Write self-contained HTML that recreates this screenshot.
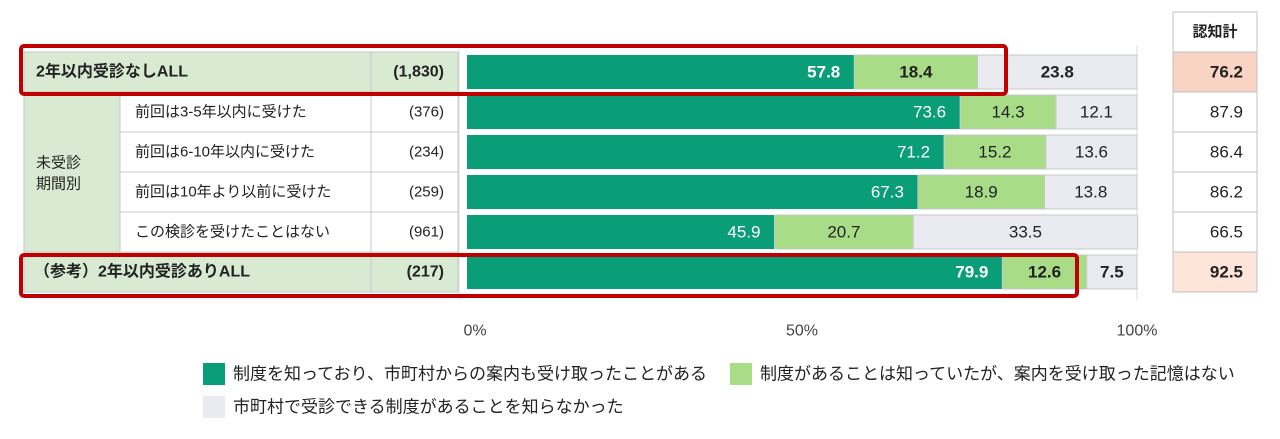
<!DOCTYPE html>
<html><head><meta charset="utf-8">
<style>
body{margin:0;width:1280px;height:439px;background:#fff;font-family:"Liberation Sans","Noto Sans CJK JP",sans-serif;overflow:hidden;position:relative}
.a{position:absolute;box-sizing:border-box}
</style></head><body>
<svg id="chart" class="a" style="left:0;top:0" width="1280" height="439"></svg>
<script>
const categories=["2年以内受診なしALL","前回は3-5年以内に受けた","前回は6-10年以内に受けた","前回は10年より以前に受けた","この検診を受けたことはない","（参考）2年以内受診ありALL"];
const counts=["(1,830)","(376)","(234)","(259)","(961)","(217)"];
const knownNotified=[57.8,73.6,71.2,67.3,45.9,79.9];
const knownNotNotified=[18.4,14.3,15.2,18.9,20.7,12.6];
const unknown=[23.8,12.1,13.6,13.8,33.5,7.5];
const totals=["76.2","87.9","86.4","86.2","66.5","92.5"];
const ticks=[0,50,100];
const boldRows=[true,false,false,false,false,true];
const NS="http://www.w3.org/2000/svg";
const svg=document.getElementById('chart');
const x=v=>467+v*6.7;
const rowY=i=>52+i*40;
function mk(t,a,p){const e=document.createElementNS(NS,t);for(const k in a)e.setAttribute(k,a[k]);(p||svg).appendChild(e);return e;}
function txt(s,xx,yy,anchor,opts,p){const e=mk('text',Object.assign({x:xx,y:yy,'text-anchor':anchor,'font-size':15,'dominant-baseline':'central','font-family':'"Liberation Sans","Noto Sans CJK JP",sans-serif',fill:'#222'},opts||{}),p);e.textContent=s;return e;}
const tbl=mk('g',{});


for(let i=0;i<categories.length;i++){
  const y=rowY(i);
  const full=(i==0||i==5);
  const fill=full?'#d9ead3':'#fff';
  if(full){mk('rect',{x:24,y:y,width:347,height:40,fill:fill,stroke:'#c8c8c8'},tbl);}
  else{mk('rect',{x:120,y:y,width:251,height:40,fill:'#fff',stroke:'#c8c8c8'},tbl);}
  mk('rect',{x:371,y:y,width:87,height:40,fill:fill,stroke:'#c8c8c8'},tbl);
  const lab=txt(categories[i],full?(i==0?36:34):135,y+20,'start',{'font-size':full?16:15,'font-weight':full?'bold':'normal'},tbl);
  
  
  const c=txt(counts[i],444,y+20,'end',{'font-size':full?16:15,'font-weight':full?'bold':'normal'},tbl);
  
  
}
mk('rect',{x:24,y:92,width:96,height:160,fill:'#d9ead3',stroke:'#c8c8c8'},tbl);
const g1=txt('未受診',36,163,'start',{'font-size':15},tbl);
const g2=txt('期間別',36,184,'start',{'font-size':15},tbl);


mk('line',{x1:459,y1:45,x2:459,y2:300,stroke:'#ddd'});
mk('line',{x1:1137,y1:45,x2:1137,y2:300,stroke:'#ddd'});
for(let i=0;i<categories.length;i++){
  const y=rowY(i)+3,h=34,b=boldRows[i];
  const fw=b?'bold':'normal';
  const a=knownNotified[i],c=knownNotNotified[i],d=unknown[i];
  const r1=mk('rect',{x:x(0),y:y,width:x(a)-x(0),height:h,fill:'#0a9e78'});
  
  
  const r2=mk('rect',{x:x(a),y:y,width:x(a+c)-x(a),height:h,fill:'#a8dc86',stroke:'#c9c9c9','stroke-width':1});
  
  
  const r3=mk('rect',{x:x(a+c),y:y,width:x(a+c+d)-x(a+c),height:h,fill:'#e9ebf1',stroke:'#c9c9c9','stroke-width':1});
  
  
  txt(a.toFixed(1),x(a)-14,y+17,'end',{fill:'#fff','font-size':17,'font-weight':fw});
  txt(c.toFixed(1),(x(a)+x(a+c))/2,y+17,'middle',{'font-size':17,'font-weight':fw});
  txt(d.toFixed(1),(x(a+c)+x(a+c+d))/2,y+17,'middle',{'font-size':17,'font-weight':fw});
  const tf=i==0?'#f9d3c3':(i==5?'#fde5da':'#fff');
  const tr=mk('rect',{x:1173,y:rowY(i),width:84,height:40,fill:tf,stroke:'#c0c0c0'});
  
  
  txt(totals[i],1243,rowY(i)+20,'end',{'font-size':17,'font-weight':fw});
}
const th=mk('rect',{x:1173,y:12,width:84,height:40,fill:'#fff',stroke:'#c0c0c0'});


txt('認知計',1215,32,'middle',{'font-size':15,'font-weight':'bold'});
const h1=mk('rect',{x:21,y:46,width:985,height:48,fill:'none',stroke:'#c00000','stroke-width':4,rx:3});

const h2=mk('rect',{x:21,y:255,width:1056,height:41,fill:'none',stroke:'#c00000','stroke-width':4,rx:3});

ticks.forEach(t=>{const e=txt(t+'%',x(t)+(t==0?8:0),331,'middle',{'font-size':16,fill:'#444'});
});
const leg=[['#0a9e78','制度を知っており、市町村からの案内も受け取ったことがある',203,374],['#a8dc86','制度があることは知っていたが、案内を受け取った記憶はない',730,374],['#e9ebf1','市町村で受診できる制度があることを知らなかった',203,407]];
leg.forEach(l=>{const g=mk('g',{});


mk('rect',{x:l[2],y:l[3]-11,width:22,height:22,fill:l[0]},g);
txt(l[1],l[2]+30,l[3],'start',{'font-size':17},g);});
</script>
</body></html>
